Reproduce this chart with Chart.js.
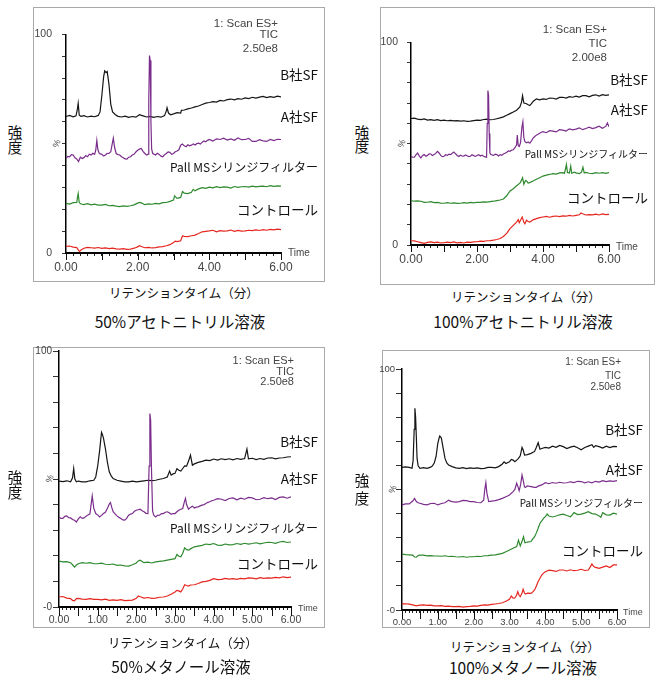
<!DOCTYPE html>
<html>
<head>
<meta charset="utf-8">
<script src="https://cdn.jsdelivr.net/npm/chart.js@4.4.1/dist/chart.umd.min.js"></script>
<style>
  body { margin: 0; background: #fff; }
  #page { position: relative; width: 659px; height: 677px; overflow: hidden; }
  .frame { position: absolute; border: 1px solid #a9a9a9; box-sizing: border-box; }
  .txt { position: absolute; white-space: nowrap; line-height: 1; }
  canvas { position: absolute; }
</style>
</head>
<body>
<div id="page"></div>
<script>
// TIC traces, [retention time (min), intensity %]
const acn50_B = [[0,62.4],[0.1,62.9],[0.2,62.3],[0.28,62.7],[0.32,66.0],[0.34,68.4],[0.37,63.0],[0.42,62.5],[0.5,62.8],[0.6,62.2],[0.7,62.6],[0.8,62.3],[0.9,62.9],[0.95,64.5],[1.0,72],[1.05,80.5],[1.08,83.3],[1.12,82.5],[1.15,83.0],[1.2,77],[1.25,68],[1.3,64.5],[1.38,63.2],[1.45,62.5],[1.55,62.2],[1.65,62.6],[1.75,62.0],[1.85,62.4],[1.95,62.1],[2.05,63.2],[2.15,62.7],[2.25,62.2],[2.35,62.5],[2.45,62.0],[2.55,62.4],[2.65,62.1],[2.75,62.8],[2.8,65.0],[2.82,66.4],[2.86,64.0],[2.92,63.2],[3.0,63.6],[3.1,64.2],[3.2,64.0],[3.22,65.2],[3.3,65.4],[3.4,65.9],[3.5,66.3],[3.6,66.8],[3.7,67.2],[3.8,67.9],[3.9,68.5],[4.0,68.8],[4.1,69.2],[4.2,69.0],[4.3,69.8],[4.4,69.5],[4.5,70.1],[4.6,70.4],[4.7,70.0],[4.8,70.6],[4.9,70.3],[5.0,70.9],[5.1,70.6],[5.2,71.2],[5.3,70.8],[5.4,71.3],[5.5,71.6],[5.6,71.1],[5.7,71.5],[5.8,71.2],[5.9,71.7],[6.0,71.4]];
const acn50_A = [[0,43.3],[0.05,44.2],[0.1,44.0],[0.15,45.0],[0.2,44.8],[0.25,43.5],[0.3,43.0],[0.35,41.8],[0.4,43.8],[0.45,43.2],[0.5,43.6],[0.55,44.6],[0.6,44.0],[0.65,45.2],[0.7,44.8],[0.75,45.6],[0.8,45.1],[0.83,47],[0.86,51.5],[0.89,47.2],[0.93,45.5],[1.0,45.1],[1.05,44.3],[1.1,44.8],[1.15,45.6],[1.2,45.5],[1.25,46.3],[1.28,49],[1.32,52.5],[1.36,48],[1.4,45.5],[1.45,45.0],[1.5,44.8],[1.55,44.0],[1.6,43.6],[1.65,43.0],[1.7,42.9],[1.75,43.8],[1.8,44.0],[1.85,44.8],[1.9,45.1],[1.95,46.2],[2.0,47.0],[2.05,47.5],[2.1,47.8],[2.15,46.5],[2.2,45.5],[2.25,44.8],[2.29,45.2],[2.31,70],[2.33,90.3],[2.35,88],[2.37,60],[2.39,47.5],[2.42,45.5],[2.5,44.8],[2.55,45.6],[2.6,45.1],[2.65,44.3],[2.7,44.0],[2.75,44.9],[2.8,45.5],[2.85,46.2],[2.9,46.0],[2.95,45.1],[3.0,45.5],[3.05,46.3],[3.1,46.6],[3.15,47.2],[3.2,49.3],[3.25,49.8],[3.3,49.0],[3.35,48.6],[3.4,49.5],[3.45,49.0],[3.5,49.3],[3.55,49.9],[3.6,49.4],[3.65,50.0],[3.7,50.2],[3.75,49.8],[3.8,50.7],[3.85,51.2],[3.9,50.8],[3.95,51.5],[4.0,51.9],[4.1,51.2],[4.2,52.2],[4.3,51.9],[4.4,52.5],[4.5,51.6],[4.6,52.2],[4.7,51.5],[4.8,52.6],[4.9,51.8],[5.0,51.9],[5.1,52.4],[5.2,51.0],[5.3,51.0],[5.4,51.8],[5.5,51.3],[5.6,51.0],[5.7,51.9],[5.8,51.4],[5.9,52.0],[6.0,51.9]];
const acn50_Pall = [[0,22.7],[0.1,22.4],[0.2,23.0],[0.3,23.1],[0.32,25.5],[0.34,27.2],[0.37,23.0],[0.42,22.4],[0.5,22.1],[0.6,22.6],[0.7,22.0],[0.8,22.3],[0.9,21.9],[1.0,21.9],[1.1,22.2],[1.2,21.6],[1.3,21.8],[1.4,21.4],[1.5,21.2],[1.6,21.5],[1.7,21.3],[1.8,21.6],[1.9,22.0],[2.0,22.8],[2.05,23.1],[2.1,22.9],[2.2,22.1],[2.3,22.5],[2.4,22.3],[2.5,22.7],[2.6,22.5],[2.7,23.0],[2.8,23.1],[2.9,23.6],[3.0,24.2],[3.03,26.1],[3.1,25.0],[3.2,25.4],[3.25,28.1],[3.3,27.4],[3.4,27.2],[3.5,27.8],[3.55,29.1],[3.6,28.4],[3.7,29.3],[3.8,29.9],[3.9,29.6],[4.0,30.1],[4.1,29.8],[4.2,30.3],[4.3,29.9],[4.4,30.2],[4.5,30.1],[4.6,29.7],[4.7,30.4],[4.8,30.0],[4.9,30.3],[5.0,30.4],[5.1,30.1],[5.2,30.6],[5.3,30.2],[5.4,30.5],[5.5,30.6],[5.6,30.3],[5.7,30.8],[5.8,30.5],[5.9,30.7],[6.0,30.6]];
const acn50_Ctrl = [[0,3.0],[0.1,3.2],[0.2,2.7],[0.3,2.5],[0.35,1.2],[0.38,0.7],[0.42,1.4],[0.5,2.2],[0.6,2.6],[0.7,2.4],[0.8,2.2],[0.9,2.5],[1.0,2.1],[1.1,2.3],[1.2,2.0],[1.3,2.2],[1.4,1.9],[1.5,1.8],[1.6,2.0],[1.7,1.7],[1.8,1.8],[1.9,2.2],[2.0,2.8],[2.05,3.3],[2.1,3.0],[2.2,2.4],[2.3,2.6],[2.4,2.3],[2.5,2.5],[2.6,2.8],[2.7,2.9],[2.8,3.3],[2.9,3.8],[3.0,4.8],[3.05,5.4],[3.1,5.2],[3.2,5.6],[3.25,7.8],[3.3,7.6],[3.4,7.5],[3.5,7.9],[3.6,8.2],[3.7,8.9],[3.8,9.7],[3.9,9.9],[4.0,10.1],[4.1,10.4],[4.2,9.7],[4.3,10.2],[4.4,10.0],[4.5,10.1],[4.6,10.5],[4.7,9.9],[4.8,10.3],[4.9,10.0],[5.0,10.1],[5.1,10.4],[5.2,10.2],[5.3,10.6],[5.4,10.3],[5.5,10.7],[5.6,10.4],[5.7,10.8],[5.8,10.6],[5.9,10.9],[6.0,10.7]];

const acn100_B = [[0,62.4],[0.1,62.6],[0.2,62.1],[0.3,61.9],[0.4,62.2],[0.5,61.6],[0.6,61.8],[0.7,61.5],[0.8,61.8],[0.9,61.4],[1.0,61.6],[1.1,61.3],[1.2,61.5],[1.3,61.2],[1.4,61.4],[1.5,61.1],[1.6,61.3],[1.7,61.0],[1.8,61.1],[1.9,61.4],[2.0,61.6],[2.1,61.5],[2.2,61.9],[2.3,62.1],[2.4,61.8],[2.5,61.9],[2.6,62.3],[2.7,62.7],[2.8,63.2],[2.9,64.0],[3.0,64.8],[3.1,65.6],[3.2,66.5],[3.3,68.1],[3.35,70.5],[3.38,73.7],[3.42,70.0],[3.5,69.7],[3.55,69.2],[3.6,68.8],[3.65,69.7],[3.7,70.8],[3.8,72.1],[3.9,71.6],[4.0,72.1],[4.1,71.8],[4.2,72.5],[4.3,72.4],[4.4,72.0],[4.5,72.8],[4.6,72.9],[4.7,72.5],[4.8,73.2],[4.9,72.9],[5.0,73.4],[5.1,73.0],[5.2,73.7],[5.3,73.7],[5.4,73.1],[5.5,73.8],[5.6,74.1],[5.7,73.5],[5.8,74.2],[5.9,73.8],[6.0,74.1]];
const acn100_A = [[0,43.8],[0.05,43.3],[0.1,43.3],[0.15,44.5],[0.2,45.4],[0.25,44.0],[0.3,42.9],[0.35,44.2],[0.4,44.6],[0.45,43.8],[0.5,44.2],[0.55,45.0],[0.6,44.9],[0.65,44.1],[0.7,44.6],[0.75,45.2],[0.8,46.2],[0.85,45.4],[0.9,44.2],[0.95,43.6],[1.0,43.8],[1.05,44.5],[1.1,44.2],[1.15,44.8],[1.2,44.6],[1.25,45.3],[1.3,45.9],[1.35,45.0],[1.4,44.2],[1.45,43.7],[1.5,44.3],[1.55,43.9],[1.6,43.8],[1.65,44.4],[1.7,44.0],[1.75,43.6],[1.8,43.8],[1.85,44.5],[1.9,44.1],[1.95,43.7],[2.0,44.2],[2.05,44.6],[2.1,43.9],[2.15,44.3],[2.2,43.8],[2.25,43.5],[2.29,43.3],[2.31,60],[2.33,76.2],[2.35,74],[2.37,55],[2.39,45.5],[2.42,44.6],[2.5,44.2],[2.55,44.8],[2.6,44.6],[2.65,43.9],[2.7,44.5],[2.75,44.2],[2.8,44.9],[2.85,45.3],[2.9,45.8],[2.95,46.4],[3.0,46.2],[3.05,46.8],[3.1,47.0],[3.15,48.0],[3.2,49.4],[3.22,54.3],[3.25,49.0],[3.28,48.6],[3.32,50.5],[3.36,58],[3.39,60.8],[3.42,53],[3.45,51.1],[3.5,50.4],[3.55,50.8],[3.6,50.2],[3.65,51.4],[3.7,52.7],[3.75,53.5],[3.8,54.2],[3.85,54.6],[3.9,55.1],[3.95,55.6],[4.0,55.9],[4.1,55.4],[4.2,56.4],[4.3,56.2],[4.4,55.8],[4.5,56.9],[4.6,56.7],[4.7,56.2],[4.8,57.3],[4.9,56.8],[5.0,57.2],[5.1,57.8],[5.2,56.9],[5.3,57.5],[5.4,58.1],[5.5,57.4],[5.6,57.9],[5.7,58.6],[5.8,57.6],[5.9,58.5],[5.95,60.2],[6.0,58.3]];
const acn100_Pall = [[0,21.9],[0.1,21.6],[0.2,21.8],[0.3,21.6],[0.4,21.0],[0.5,21.1],[0.6,21.4],[0.7,20.9],[0.8,21.0],[0.9,20.7],[1.0,20.6],[1.1,20.9],[1.2,20.6],[1.3,20.8],[1.4,20.5],[1.5,20.6],[1.6,20.9],[1.7,20.7],[1.8,21.0],[1.9,20.8],[2.0,21.1],[2.1,21.0],[2.2,21.3],[2.3,21.2],[2.4,21.4],[2.5,21.6],[2.6,21.9],[2.7,22.2],[2.8,22.7],[2.9,24.3],[3.0,26.7],[3.1,27.8],[3.2,29.2],[3.3,30.5],[3.35,32.0],[3.38,33.2],[3.42,30.0],[3.47,31.8],[3.5,31.6],[3.55,30.6],[3.6,30.8],[3.7,31.6],[3.8,32.4],[3.9,33.2],[4.0,34.0],[4.1,34.5],[4.2,34.8],[4.3,35.2],[4.4,35.0],[4.5,35.6],[4.6,35.7],[4.65,35.3],[4.69,38.2],[4.71,39.7],[4.74,35.8],[4.8,35.5],[4.84,38.9],[4.87,35.4],[4.95,35.9],[5.0,35.6],[5.1,35.2],[5.17,36.0],[5.21,38.4],[5.25,35.5],[5.3,35.8],[5.4,35.4],[5.5,35.2],[5.6,35.7],[5.7,35.4],[5.8,35.7],[5.9,35.3],[6.0,35.7]];
const acn100_Ctrl = [[0,2.1],[0.1,2.0],[0.2,1.6],[0.3,1.2],[0.4,0.8],[0.5,1.3],[0.6,1.5],[0.7,1.2],[0.8,1.4],[0.9,1.0],[1.0,1.1],[1.1,1.4],[1.2,1.2],[1.3,1.5],[1.4,1.1],[1.5,1.3],[1.6,1.0],[1.7,1.4],[1.8,1.3],[1.9,1.5],[2.0,1.6],[2.1,1.9],[2.2,1.8],[2.3,2.1],[2.4,2.2],[2.5,2.4],[2.6,2.7],[2.7,3.2],[2.8,4.2],[2.9,5.7],[3.0,8.1],[3.1,9.7],[3.2,11.3],[3.25,12.5],[3.28,11.0],[3.33,12.6],[3.37,13.8],[3.42,11.2],[3.45,10.5],[3.5,12.2],[3.55,11.6],[3.6,11.3],[3.7,12.4],[3.8,13.0],[3.9,13.5],[4.0,13.8],[4.1,14.1],[4.2,13.7],[4.3,14.1],[4.4,14.3],[4.5,14.0],[4.6,14.4],[4.7,14.2],[4.8,14.6],[4.9,14.3],[5.0,14.6],[5.1,14.9],[5.15,15.8],[5.2,15.4],[5.3,14.8],[5.4,15.0],[5.5,14.9],[5.6,15.2],[5.7,14.8],[5.8,15.3],[5.9,15.0],[6.0,15.1]];

const meoh50_B = [[0,49.2],[0.1,49.0],[0.2,49.3],[0.3,48.9],[0.35,50.5],[0.38,54.1],[0.41,50.0],[0.45,48.9],[0.5,49.2],[0.6,48.9],[0.7,48.9],[0.8,49.3],[0.9,49.5],[0.95,50.8],[1.0,55],[1.05,61],[1.08,65.5],[1.1,68.2],[1.12,67.5],[1.15,66],[1.2,61.9],[1.25,56.7],[1.3,52.8],[1.35,51.2],[1.4,50.2],[1.5,49.5],[1.6,49.2],[1.7,48.9],[1.8,48.9],[1.9,49.2],[2.0,48.9],[2.1,49.1],[2.2,49.3],[2.3,49.5],[2.4,49.4],[2.5,49.5],[2.6,49.9],[2.7,50.2],[2.8,50.8],[2.86,53.1],[2.9,51.5],[2.95,52.0],[3.0,52.2],[3.05,54.0],[3.1,53.4],[3.15,53.1],[3.2,54.1],[3.25,55.1],[3.3,55.0],[3.35,57.0],[3.4,59.3],[3.45,55.4],[3.5,55.9],[3.6,56.5],[3.7,56.9],[3.8,57.4],[3.9,57.2],[4.0,57.8],[4.1,57.4],[4.2,57.9],[4.3,57.6],[4.4,57.9],[4.5,57.5],[4.6,58.0],[4.7,57.7],[4.8,58.0],[4.86,61.7],[4.9,57.9],[5.0,58.1],[5.1,57.6],[5.2,58.0],[5.3,57.7],[5.4,58.2],[5.5,58.3],[5.6,57.9],[5.7,58.2],[5.8,58.3],[5.9,58.6],[6.0,58.7]];
const meoh50_A = [[0,35.2],[0.05,34.6],[0.1,34.6],[0.15,35.4],[0.2,35.6],[0.25,34.9],[0.3,34.8],[0.35,34.2],[0.4,33.9],[0.45,33.2],[0.5,34.4],[0.55,35.2],[0.6,34.6],[0.65,34.8],[0.7,35.5],[0.75,35.9],[0.8,36.4],[0.83,40],[0.86,43.4],[0.9,38.5],[0.95,36.5],[1.0,36.0],[1.05,35.2],[1.1,35.8],[1.15,36.5],[1.2,37.0],[1.25,38.5],[1.3,40.2],[1.33,40.8],[1.37,38.6],[1.4,37.2],[1.45,36.4],[1.5,35.6],[1.55,35.0],[1.6,34.6],[1.65,34.0],[1.7,33.9],[1.75,34.6],[1.8,35.9],[1.85,36.3],[1.9,36.5],[1.95,37.4],[2.0,37.8],[2.05,38.0],[2.1,38.2],[2.15,37.6],[2.2,37.2],[2.25,36.6],[2.3,36.5],[2.33,55],[2.35,75.6],[2.37,73],[2.39,55],[2.42,37.5],[2.45,35.9],[2.5,35.2],[2.55,35.8],[2.6,35.9],[2.65,36.5],[2.7,36.5],[2.75,37.0],[2.8,37.2],[2.85,36.8],[2.9,36.2],[2.95,36.5],[3.0,36.5],[3.05,37.2],[3.1,37.8],[3.15,38.2],[3.2,38.5],[3.24,41.0],[3.27,42.4],[3.3,40.0],[3.35,38.2],[3.4,38.9],[3.45,39.4],[3.5,38.7],[3.55,39.0],[3.6,39.1],[3.65,39.5],[3.7,39.8],[3.75,40.0],[3.8,40.4],[3.85,40.9],[3.9,41.1],[3.95,41.5],[4.0,41.7],[4.1,42.3],[4.2,42.1],[4.3,41.6],[4.4,42.4],[4.5,42.6],[4.6,41.9],[4.7,42.5],[4.8,42.1],[4.9,42.8],[5.0,42.6],[5.1,41.9],[5.2,42.1],[5.3,42.7],[5.4,42.3],[5.5,42.6],[5.6,42.0],[5.7,42.8],[5.8,43.0],[5.9,42.5],[6.0,43.0]];
const meoh50_Pall = [[0,17.9],[0.1,17.6],[0.2,17.7],[0.3,17.3],[0.35,16.5],[0.4,15.6],[0.45,16.4],[0.5,16.9],[0.6,17.3],[0.7,17.1],[0.8,17.3],[0.9,16.9],[1.0,16.9],[1.1,17.1],[1.2,16.7],[1.3,16.6],[1.4,16.8],[1.5,16.3],[1.6,16.4],[1.7,16.1],[1.8,16.0],[1.9,16.5],[2.0,17.2],[2.05,18.0],[2.1,18.3],[2.15,17.8],[2.2,17.3],[2.3,17.5],[2.4,17.2],[2.5,17.6],[2.6,17.8],[2.7,18.0],[2.8,18.3],[2.9,18.6],[3.0,18.9],[3.05,20.5],[3.1,19.8],[3.15,19.6],[3.2,21.0],[3.25,23.1],[3.3,22.4],[3.35,22.2],[3.4,22.7],[3.5,23.5],[3.6,23.8],[3.7,24.1],[3.8,24.6],[3.9,24.4],[4.0,24.8],[4.1,24.2],[4.2,24.1],[4.3,24.6],[4.4,24.3],[4.5,24.4],[4.6,24.8],[4.7,24.5],[4.8,24.9],[4.9,24.6],[5.0,24.8],[5.1,25.1],[5.2,24.7],[5.3,25.0],[5.4,25.3],[5.5,25.2],[5.6,24.9],[5.7,25.4],[5.8,25.6],[5.9,25.2],[6.0,25.4]];
const meoh50_Ctrl = [[0,3.9],[0.1,4.1],[0.2,3.5],[0.3,3.3],[0.35,2.6],[0.4,2.4],[0.45,3.3],[0.5,3.4],[0.6,3.1],[0.7,3.0],[0.8,3.3],[0.9,3.0],[1.0,3.0],[1.1,2.8],[1.2,3.1],[1.3,2.6],[1.4,2.8],[1.5,2.6],[1.6,2.9],[1.7,2.5],[1.8,2.6],[1.9,2.7],[2.0,3.4],[2.05,4.3],[2.1,4.0],[2.2,3.5],[2.3,3.7],[2.4,3.4],[2.5,3.5],[2.6,3.8],[2.7,3.9],[2.8,4.3],[2.9,5.0],[3.0,5.9],[3.05,6.5],[3.1,6.3],[3.15,5.9],[3.2,7.0],[3.25,8.7],[3.3,8.4],[3.35,8.2],[3.4,8.6],[3.5,8.7],[3.6,9.2],[3.7,9.8],[3.8,10.0],[3.9,10.4],[4.0,11.1],[4.1,10.7],[4.2,10.8],[4.3,11.2],[4.4,10.9],[4.5,11.1],[4.6,10.8],[4.7,11.2],[4.8,11.0],[4.9,11.4],[5.0,11.3],[5.1,11.0],[5.2,11.5],[5.3,11.2],[5.4,11.4],[5.5,11.3],[5.6,11.6],[5.7,11.4],[5.8,11.8],[5.9,11.5],[6.0,11.7]];

const meoh100_B = [[0,59.2],[0.1,59.4],[0.2,59.2],[0.28,58.8],[0.31,62],[0.34,75],[0.36,83.7],[0.38,80],[0.4,71.9],[0.42,63],[0.45,59.8],[0.5,58.8],[0.6,59.1],[0.7,58.8],[0.8,59.3],[0.85,59.8],[0.9,61.0],[0.95,63.6],[1.0,69.2],[1.05,72.2],[1.08,71.8],[1.1,71.2],[1.15,67.1],[1.2,62.9],[1.25,61.0],[1.3,60.2],[1.4,59.5],[1.5,59.0],[1.6,58.8],[1.7,59.1],[1.8,58.7],[1.9,59.0],[2.0,58.8],[2.1,59.0],[2.2,58.7],[2.3,58.8],[2.4,59.2],[2.5,59.2],[2.6,59.0],[2.7,59.5],[2.8,60.6],[2.85,61.5],[2.9,60.8],[3.0,61.5],[3.05,62.5],[3.1,62.2],[3.15,61.5],[3.2,62.2],[3.25,62.9],[3.3,64],[3.35,67.5],[3.38,66.5],[3.42,64.3],[3.5,64.5],[3.6,65.0],[3.7,65.8],[3.75,67.5],[3.8,69.4],[3.85,66.7],[3.9,67.0],[4.0,67.5],[4.1,67.2],[4.2,68.0],[4.3,67.5],[4.4,68.3],[4.5,67.8],[4.6,67.0],[4.7,67.6],[4.8,68.0],[4.9,67.3],[5.0,66.5],[5.1,67.4],[5.2,68.0],[5.3,68.6],[5.35,67.5],[5.4,68.2],[5.5,67.8],[5.6,67.2],[5.7,68.0],[5.8,67.4],[5.9,67.9],[6.0,67.8]];
const meoh100_A = [[0,43.6],[0.1,44.0],[0.2,44.0],[0.25,44.6],[0.3,45.2],[0.35,46.3],[0.4,45.0],[0.45,44.5],[0.5,44.3],[0.6,43.8],[0.7,43.6],[0.8,44.2],[0.9,44.3],[1.0,43.6],[1.1,44.2],[1.2,44.5],[1.3,45.6],[1.35,45.2],[1.4,45.0],[1.5,44.8],[1.6,45.0],[1.7,45.5],[1.8,45.4],[1.9,45.0],[2.0,45.0],[2.1,44.6],[2.2,44.5],[2.28,45.6],[2.31,50],[2.34,52.8],[2.37,48.4],[2.42,45.0],[2.5,45.2],[2.6,45.4],[2.7,45.8],[2.8,46.3],[2.9,47.0],[3.0,47.7],[3.1,49.1],[3.15,50.0],[3.2,52.6],[3.24,51.0],[3.27,49.5],[3.31,52.0],[3.35,56.0],[3.38,54.0],[3.42,51.0],[3.45,50.9],[3.5,51.5],[3.6,51.2],[3.7,50.9],[3.75,50.9],[3.8,51.4],[3.9,51.9],[4.0,52.8],[4.1,52.4],[4.2,52.9],[4.3,52.6],[4.4,53.0],[4.5,52.7],[4.6,52.8],[4.7,53.2],[4.8,52.9],[4.9,53.4],[5.0,53.3],[5.1,52.8],[5.2,53.2],[5.3,52.8],[5.4,53.4],[5.5,53.1],[5.6,53.7],[5.7,53.3],[5.8,53.6],[5.9,53.4],[6.0,53.7]];
const meoh100_Pall = [[0,23.2],[0.1,23.0],[0.2,22.9],[0.3,22.8],[0.35,22.0],[0.4,21.9],[0.45,22.6],[0.5,22.8],[0.6,22.8],[0.7,22.5],[0.8,22.6],[0.9,22.4],[1.0,22.4],[1.1,22.3],[1.2,22.5],[1.3,22.2],[1.4,22.3],[1.5,22.1],[1.6,22.0],[1.7,22.2],[1.8,21.9],[1.9,22.1],[2.0,22.1],[2.1,22.3],[2.2,22.2],[2.3,22.5],[2.4,22.6],[2.5,22.8],[2.6,22.9],[2.7,23.2],[2.8,23.5],[2.9,24.2],[3.0,24.9],[3.1,25.6],[3.2,26.3],[3.25,29.0],[3.3,26.6],[3.35,28.5],[3.39,30.4],[3.43,27.9],[3.5,28.2],[3.6,28.4],[3.65,29.5],[3.7,30.4],[3.75,32.0],[3.8,33.9],[3.85,36.0],[3.9,37.0],[3.95,38.0],[4.0,38.7],[4.05,39.8],[4.1,39.0],[4.2,38.6],[4.3,39.0],[4.4,39.5],[4.5,39.8],[4.6,39.2],[4.7,38.7],[4.75,39.5],[4.8,40.4],[4.9,39.6],[5.0,39.8],[5.1,40.2],[5.2,40.8],[5.3,40.0],[5.4,39.8],[5.5,39.0],[5.55,38.5],[5.6,40.4],[5.7,39.5],[5.8,39.4],[5.9,40.2],[6.0,39.8]];
const meoh100_Ctrl = [[0,2.5],[0.1,2.6],[0.2,2.4],[0.3,2.1],[0.4,1.7],[0.5,2.0],[0.6,2.1],[0.7,1.9],[0.8,2.0],[0.9,1.7],[1.0,1.7],[1.1,1.8],[1.2,1.5],[1.3,1.6],[1.4,1.4],[1.5,1.4],[1.6,1.5],[1.7,1.2],[1.8,1.4],[1.9,1.5],[2.0,1.7],[2.1,1.6],[2.2,1.9],[2.3,2.1],[2.4,2.0],[2.5,2.3],[2.6,2.5],[2.7,2.7],[2.8,3.0],[2.9,3.6],[3.0,4.4],[3.05,5.8],[3.1,4.9],[3.15,5.0],[3.2,6.2],[3.23,7.6],[3.27,6.0],[3.3,5.5],[3.35,7.0],[3.38,8.6],[3.42,7.0],[3.45,6.6],[3.5,7.0],[3.6,6.9],[3.65,7.5],[3.7,8.3],[3.75,10.0],[3.8,11.8],[3.85,13.2],[3.9,14.5],[3.95,15.3],[4.0,15.9],[4.1,16.5],[4.2,16.3],[4.3,16.0],[4.4,16.6],[4.5,16.6],[4.6,16.2],[4.7,16.7],[4.8,16.3],[4.9,16.5],[5.0,16.9],[5.1,16.4],[5.2,16.6],[5.25,17.8],[5.3,19.1],[5.35,18.0],[5.4,17.7],[5.5,17.3],[5.6,17.8],[5.7,18.3],[5.8,17.6],[5.9,18.7],[6.0,18.7]];

const seriesNames = ['B社SF', 'A社SF', 'Pall MSシリンジフィルター', 'コントロール'];
const scanInfo = ['1: Scan ES+', 'TIC'];
const ticScale = ['2.50e8', '2.00e8', '2.50e8', '2.50e8'];
const panelTitles = ['50%アセトニトリル溶液', '100%アセトニトリル溶液', '50%メタノール溶液', '100%メタノール溶液'];
const xTitle = 'リテンションタイム（分）';
const yTitle = ['強', '度'];

const colors = { B: '#151515', A: '#7b2d8c', Pall: '#2e8a2e', Ctrl: '#e5261f' };

const page = document.getElementById('page');
const TICK_FONT = '"Liberation Sans", Arial, sans-serif';
const JP_FONT = '"Noto Sans CJK JP", "Noto Sans", sans-serif';

function addText(text, x, y, size, anchor, opts = {}) {
  const d = document.createElement('div');
  d.className = 'txt';
  d.textContent = text;
  d.style.left = x + 'px';
  d.style.top = y + 'px';
  d.style.fontSize = size + 'px';
  d.style.fontFamily = opts.family || JP_FONT;
  d.style.color = opts.color || '#111';
  const tx = anchor === 'right' ? '-100%' : anchor === 'center' ? '-50%' : '0';
  d.style.transform = `translate(${tx}, -50%)`;
  page.appendChild(d);
}

// rotated "%" marker at mid height of the intensity axis
const percentMark = {
  id: 'percentMark',
  afterDraw(chart) {
    const {ctx, chartArea, scales} = chart;
    ctx.save();
    ctx.translate(chartArea.left - 9, scales.y.getPixelForValue(50));
    ctx.rotate(-Math.PI / 2.6);
    ctx.font = '9px ' + TICK_FONT;
    ctx.fillStyle = '#555';
    ctx.textAlign = 'center';
    ctx.textBaseline = 'middle';
    ctx.fillText('%', 0, 0);
    ctx.restore();
  }
};

// longer marks at the major time divisions
const majorTicks = {
  id: 'majorTicks',
  afterDraw(chart, args, opts) {
    const {ctx, chartArea, scales} = chart;
    ctx.save();
    ctx.strokeStyle = '#111';
    ctx.lineWidth = 1;
    for (let v = 0; v <= 6.0001; v += opts.step) {
      const x = Math.round(scales.x.getPixelForValue(v)) + 0.5;
      ctx.beginPath();
      ctx.moveTo(x, chartArea.bottom);
      ctx.lineTo(x, chartArea.bottom + opts.len);
      ctx.stroke();
    }
    ctx.restore();
  }
};

const panels = [
  { plot: [66, 30, 281, 253], frame: [33, 7, 325, 282], data: [acn50_A, acn50_B, acn50_Pall, acn50_Ctrl],
    xStep: 0.2, labelStep: 2, majorStep: 1, xFont: 12, yFont: 10.5, yPad: 10, yTick: 4, zero: '0',
    scanRight: 278, scanY: [24, 35, 49], scanSize: 11.5,
    labelRight: 318, labelY: [75, 117, 167, 210], pallSize: 12,
    time: [288, 253, 10], yTitle: [15, 132, 147], xTitleAt: [184, 293], titleAt: [180, 322] },
  { plot: [411, 39, 609, 245], frame: [380, 7, 655, 285], data: [acn100_A, acn100_B, acn100_Pall, acn100_Ctrl],
    xStep: 0.2, labelStep: 2, majorStep: 1, xFont: 12, yFont: 10.5, yPad: 9, yTick: 4, zero: '0',
    scanRight: 607, scanY: [30, 44, 58], scanSize: 11.5,
    labelRight: 648, labelY: [80, 110, 154, 198], pallSize: 10,
    time: [616, 247, 10], yTitle: [362, 132, 146], xTitleAt: [526, 297], titleAt: [523, 322] },
  { plot: [59, 351, 291, 607], frame: [33, 347, 325, 628], data: [meoh50_A, meoh50_B, meoh50_Pall, meoh50_Ctrl],
    xStep: 0.1, labelStep: 1, majorStep: 0.5, xFont: 10.5, yFont: 10, yPad: 1, yTick: 6, zero: '-0',
    scanRight: 294, scanY: [360, 371, 381], scanSize: 11,
    labelRight: 318, labelY: [442, 479, 528, 564], pallSize: 12,
    time: [298, 608, 9], yTitle: [15, 477, 492], xTitleAt: [183, 643], titleAt: [181, 667] },
  { plot: [402, 369, 617, 610], frame: [382, 350, 650, 628], data: [meoh100_A, meoh100_B, meoh100_Pall, meoh100_Ctrl],
    xStep: 0.1, labelStep: 1, majorStep: 0.5, xFont: 9.5, yFont: 9.5, yPad: 1, yTick: 6, zero: '-0',
    scanRight: 621, scanY: [362, 376, 387], scanSize: 10,
    labelRight: 643, labelY: [430, 470, 503, 551], pallSize: 10,
    time: [623, 612, 9], yTitle: [362, 480, 498], xTitleAt: [525, 647], titleAt: [523, 668] }
];

const Y_W = 40, PAD_T = 12, PAD_R = 18, X_H = 26;

panels.forEach((p, i) => {
  const [l, t, r, b] = p.plot;
  const [fl, ft, fr, fb] = p.frame;
  const frame = document.createElement('div');
  frame.className = 'frame';
  Object.assign(frame.style, { left: fl + 'px', top: ft + 'px', width: (fr - fl) + 'px', height: (fb - ft) + 'px' });
  page.appendChild(frame);

  const canvas = document.createElement('canvas');
  const cw = (r - l) + Y_W + PAD_R, ch = (b - t) + PAD_T + X_H;
  canvas.width = cw; canvas.height = ch;
  Object.assign(canvas.style, { left: (l - Y_W) + 'px', top: (t - PAD_T) + 'px', width: cw + 'px', height: ch + 'px' });
  page.appendChild(canvas);

  const lineColors = [colors.A, colors.B, colors.Pall, colors.Ctrl];
  new Chart(canvas.getContext('2d'), {
    type: 'line',
    data: {
      datasets: p.data.map((d, k) => ({
        data: d.map(([x, y]) => ({ x, y })),
        borderColor: lineColors[k],
        borderWidth: 1.2,
        pointRadius: 0,
        tension: 0
      }))
    },
    options: {
      responsive: false,
      animation: false,
      layout: { padding: { top: PAD_T, right: PAD_R, left: 0, bottom: 0 } },
      plugins: { legend: { display: false }, tooltip: { enabled: false }, majorTicks: { step: p.majorStep, len: p.yTick + 3 } },
      scales: {
        x: {
          type: 'linear', min: 0, max: 6,
          afterFit: s => { s.height = X_H; },
          border: { color: '#000', width: 2 },
          grid: { drawOnChartArea: false, tickLength: 3, color: '#222' },
          ticks: {
            stepSize: p.xStep, autoSkip: false, maxRotation: 0, padding: 4,
            font: { family: TICK_FONT, size: p.xFont }, color: '#444',
            callback: v => Math.abs(v / p.labelStep - Math.round(v / p.labelStep)) < 1e-6 ? Number(v).toFixed(2) : ''
          }
        },
        y: {
          type: 'linear', min: 0, max: 100,
          afterFit: s => { s.width = Y_W; },
          border: { color: '#000', width: 1.5 },
          grid: { drawOnChartArea: false, tickLength: p.yTick, color: '#333' },
          ticks: {
            stepSize: 10, autoSkip: false, padding: p.yPad,
            font: { family: TICK_FONT, size: p.yFont }, color: '#444',
            callback: v => v === 100 ? '100' : v === 0 ? p.zero : ''
          }
        }
      }
    },
    plugins: [percentMark, majorTicks]
  });

  // header text of the trace
  addText(scanInfo[0], p.scanRight, p.scanY[0], p.scanSize, 'right', { family: TICK_FONT, color: '#444' });
  addText(scanInfo[1], p.scanRight, p.scanY[1], p.scanSize, 'right', { family: TICK_FONT, color: '#444' });
  addText(ticScale[i], p.scanRight, p.scanY[2], p.scanSize, 'right', { family: TICK_FONT, color: '#444' });

  // trace names
  seriesNames.forEach((name, k) => {
    addText(name, p.labelRight, p.labelY[k], k === 2 ? p.pallSize : 13.5, 'right');
  });

  addText('Time', p.time[0], p.time[1], p.time[2], 'left', { family: TICK_FONT, color: '#444' });
  addText(yTitle[0], p.yTitle[0], p.yTitle[1], 14.5, 'center');
  addText(yTitle[1], p.yTitle[0], p.yTitle[2], 14.5, 'center');
  addText(xTitle, p.xTitleAt[0], p.xTitleAt[1], 12.5, 'center');
  addText(panelTitles[i], p.titleAt[0], p.titleAt[1], 15.5, 'center');
});
</script>
</body>
</html>
